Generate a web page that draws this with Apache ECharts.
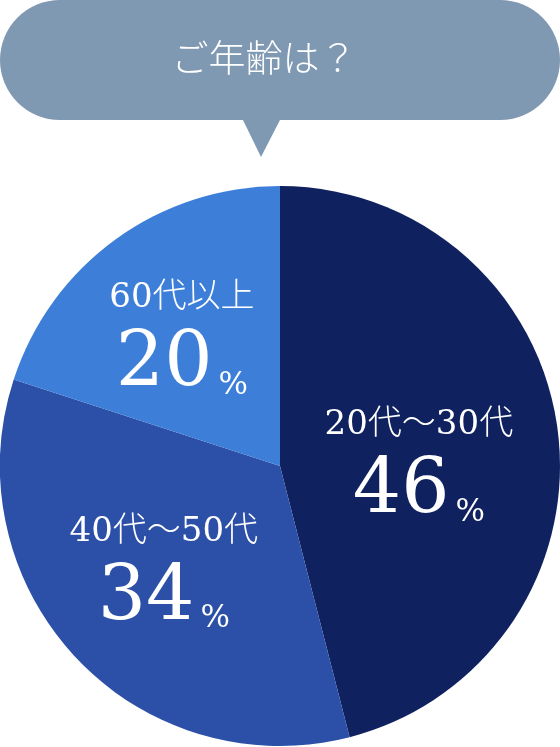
<!DOCTYPE html>
<html><head><meta charset="utf-8">
<script src="https://cdn.jsdelivr.net/npm/echarts@6/dist/echarts.min.js"></script>
<style>html,body{margin:0;padding:0;background:#fff}#c{width:560px;height:747px}</style>
</head><body><div id="c"></div>
<script>
const categories = ['20代〜30代', '40代〜50代', '60代以上'];
const values = [46, 34, 20];
const colors = ['#0f215f', '#2c50a7', '#3d7ed9'];
const question = 'ご年齢は？';

const FONT = "'DejaVu Serif', 'Noto Sans CJK JP', serif";
const chart = echarts.init(document.getElementById('c'));
chart.setOption({
  animation: false,
  graphic: [
    { type: 'rect', shape: { x: 0, y: 0, width: 560, height: 120, r: 60 }, style: { fill: '#7f99b3' }, silent: true },
    { type: 'polygon', shape: { points: [[242, 118], [281, 118], [261, 157]] }, style: { fill: '#7f99b3' }, silent: true },
    { type: 'text', x: 264, y: 58, style: { text: question, fill: '#fff', fontSize: 37, fontFamily: "'Noto Sans CJK JP', serif", fontWeight: 300, align: 'center', verticalAlign: 'middle' }, silent: true, z: 10 }
  ],
  series: [{
    type: 'pie',
    center: [280, 466],
    radius: [0, 280],
    startAngle: 90,
    clockwise: true,
    silent: true,
    label: {
      show: true,
      position: 'inside',
      color: '#fff',
      fontFamily: FONT,
      formatter: p => '{a|' + p.name + '}\n{b|' + p.value + '}{c|%}',
      rich: {
        a: { fontSize: 34, lineHeight: 50, color: '#fff', fontFamily: FONT, fontWeight: 300 },
        b: { fontSize: 76, lineHeight: 84, color: '#fff', fontFamily: FONT, verticalAlign: 'middle' },
        c: { fontSize: 31, lineHeight: 84, color: '#fff', fontFamily: FONT, verticalAlign: 'bottom', padding: [0, 0, 6, 6] }
      }
    },
    labelLine: { show: false },
    labelLayout: p => {
      if (p.dataIndex === 0) return { dx: -3, dy: 19 };
      if (p.dataIndex === 1) return { dx: -12, dy: 10 };
      return { dx: -14, dy: -10 };
    },
    itemStyle: { borderWidth: 0 },
    data: categories.map((n, i) => ({ name: n, value: values[i], itemStyle: { color: colors[i] } }))
  }]
});
</script></body></html>
